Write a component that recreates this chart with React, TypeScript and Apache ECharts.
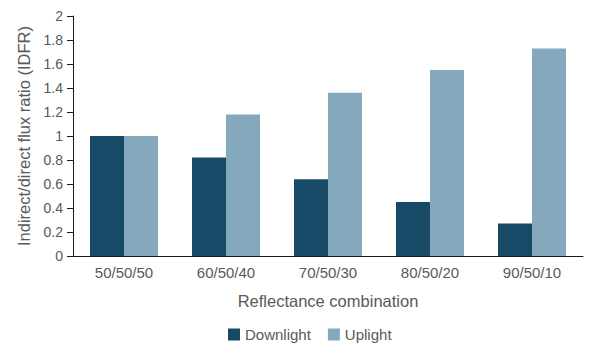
import React, { useEffect, useRef } from "react";
import * as echarts from "echarts";

const categories = ["50/50/50", "60/50/40", "70/50/30", "80/50/20", "90/50/10"];
const downlight = [1.0, 0.82, 0.64, 0.45, 0.27];
const uplight = [1.0, 1.18, 1.36, 1.55, 1.73];
const yTicks = { min: 0, max: 2, interval: 0.2 };

const FONT = "'Liberation Sans', Arial, sans-serif";
const TEXT = "#595959";

export default function App() {
  const ref = useRef<HTMLDivElement>(null);
  useEffect(() => {
    if (!ref.current) return;
    const chart = echarts.init(ref.current, null, { renderer: "svg" });
    chart.setOption({
      animation: false,
      textStyle: { fontFamily: FONT },
      grid: { left: 73, right: 17, top: 16, bottom: 104, containLabel: false },
      legend: {
        top: 327,
        left: 228,
        padding: 0,
        itemWidth: 12,
        itemHeight: 12,
        itemGap: 17,
        icon: "rect",
        textStyle: { color: TEXT, fontSize: 15, fontFamily: FONT },
        data: ["Downlight", "Uplight"],
      },
      xAxis: {
        type: "category",
        data: categories,
        name: "Reflectance combination",
        nameLocation: "middle",
        nameGap: 36,
        nameTextStyle: { color: TEXT, fontSize: 16.5, fontFamily: FONT },
        axisLine: { lineStyle: { color: "#1a1a1a", width: 1 } },
        axisTick: { show: false },
        axisLabel: { color: TEXT, fontSize: 15, margin: 9, fontFamily: FONT },
      },
      yAxis: {
        type: "value",
        min: yTicks.min,
        max: yTicks.max,
        interval: yTicks.interval,
        name: "Indirect/direct flux ratio (IDFR)",
        nameLocation: "middle",
        nameGap: 33,
        nameTextStyle: { color: TEXT, fontSize: 16.5, fontFamily: FONT },
        axisLine: { show: true, lineStyle: { color: "#1a1a1a", width: 1 } },
        axisTick: { show: true, length: 6, lineStyle: { color: "#1a1a1a" } },
        splitLine: { show: false },
        axisLabel: {
          color: TEXT,
          fontSize: 14,
          margin: 10,
          fontFamily: FONT,
          formatter: (v: number) => String(Math.round(v * 10) / 10),
        },
      },
      series: [
        {
          name: "Downlight",
          type: "bar",
          data: downlight,
          barWidth: 34,
          barGap: "0%",
          itemStyle: { color: "#174a67" },
        },
        {
          name: "Uplight",
          type: "bar",
          data: uplight,
          barWidth: 34,
          barGap: "0%",
          itemStyle: { color: "#84a9bd" },
        },
      ],
    });
    return () => chart.dispose();
  }, []);
  return <div ref={ref} style={{ width: 600, height: 360, position: "absolute", left: 0, top: 0 }} />;
}
